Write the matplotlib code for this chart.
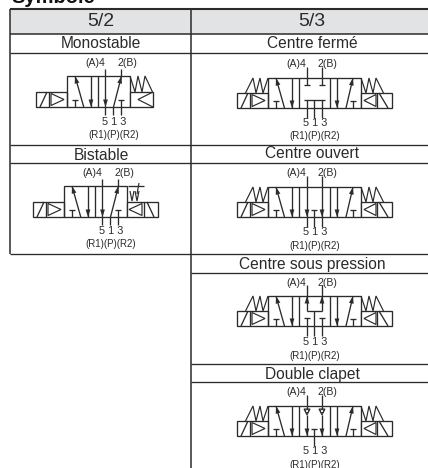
import matplotlib
matplotlib.use("Agg")
import matplotlib.pyplot as plt
from matplotlib.patches import Polygon, Rectangle, Circle

plt.rcParams['font.family'] = ['Liberation Sans', 'DejaVu Sans']

TITLE = "Symbole"
COLUMN_TITLES = ["5/2", "5/3"]
LEFT_ROWS = ["Monostable", "Bistable"]
RIGHT_ROWS = ["Centre fermé", "Centre ouvert", "Centre sous pression", "Double clapet"]
TOP_LEFT_PORT = "(A)4"
TOP_RIGHT_PORT = "2(B)"
BOTTOM_PORTS = "5 1 3"
BOTTOM_NAMES = "(R1)(P)(R2)"
RIGHT_CENTRES = ["closed", "open", "pressure", "check"]

INK = "#2b2b2b"
HEADER_FILL = "#e2e3e4"
LW = 0.95

fig = plt.figure(figsize=(4.28, 4.68), dpi=100)
ax = fig.add_axes([0, 0, 1, 1])
ax.set_xlim(0, 428)
ax.set_ylim(468, 0)
ax.axis("off")


def line(xs, ys, lw=LW):
    ax.plot(xs, ys, color=INK, lw=lw, solid_capstyle="butt", solid_joinstyle="miter")


def arrow(x0, y0, x1, y1):
    # shaft with a narrow filled head at x1,y1
    line([x0, x1], [y0, y1])
    dx, dy = x1 - x0, y1 - y0
    n = (dx ** 2 + dy ** 2) ** 0.5
    dx, dy = dx / n, dy / n
    bx, by = x1 - dx * 7.5, y1 - dy * 7.5
    ax.add_patch(Polygon([(x1, y1), (bx - dy * 2.4, by + dx * 2.4), (bx + dy * 2.4, by - dx * 2.4)],
                         closed=True, fc=INK, ec="none"))


def tee(x, y, end, half=3):
    line([x, x], [y, end])
    line([x - half, x + half], [y, y])


def spring(edge, side, top, low):
    # side: +1 right of the body, -1 left of it
    steps = [(0, top), (5, low), (8, top), (12, low), (15, top), (22.5, low)]
    line([edge + side * s for s, _ in steps], [y for _, y in steps], lw=0.85)


def solenoid_left(x0, top, bot):
    ax.add_patch(Rectangle((x0, top), 31, bot - top, fc="white", ec=INK, lw=LW))
    line([x0 + 13, x0 + 13], [top, bot])
    line([x0 + 4, x0 + 11], [bot, top])
    ax.add_patch(Polygon([(x0 + 15, top + 1.5), (x0 + 28, (top + bot) / 2), (x0 + 15, bot - 1.5)],
                         closed=True, fc="white", ec=INK, lw=0.85))


def left_cell(x0, w, top, bot):
    # the outer position, same on every symbol
    arrow(x0 + w / 2 + 1, bot, x0 + 8, top)
    tee(x0 + 8, bot - 7, bot)
    arrow(x0 + 24, top, x0 + 24, bot)


def right_cell(x0, w, top, bot):
    arrow(x0 + 7, top, x0 + 7, bot)
    arrow(x0 + 16, bot, x0 + 23, top)
    tee(x0 + 23, bot - 7, bot)


def port_labels(p4, p2, p1, y_top, y_ports, y_names):
    ax.text(p4 - 0.5, y_top, TOP_LEFT_PORT, ha="right", va="center", fontsize=7.6, color=INK)
    ax.text(p2 - 4, y_top, TOP_RIGHT_PORT, ha="left", va="center", fontsize=7.6, color=INK)
    ax.text(p1 + 0.5, y_ports, BOTTOM_PORTS, ha="center", va="center", fontsize=7.8, color=INK)
    ax.text(p1, y_names, BOTTOM_NAMES, ha="center", va="center", fontsize=7, color=INK)


def valve_two(x0, top, bistable):
    w = 31.5
    bot = top + 31
    low = bot - 15
    solenoid_left(x0 - 31, low, bot)
    ax.add_patch(Rectangle((x0, top), 2 * w, bot - top, fc="none", ec=INK, lw=LW))
    line([x0 + w, x0 + w], [top, bot])
    left_cell(x0, w, top, bot)
    p4, p1, p2 = x0 + w + 7, x0 + w + 15, x0 + w + 23
    arrow(p4, top - 7, p4, bot)
    arrow(p1, bot, p2, top)
    tee(p2, bot - 7, bot)
    line([p4, p4], [bot, bot + 8])
    line([p1, p1], [bot, bot + 8])
    line([p2, p2], [bot, bot + 8])
    line([p2, p2], [top - 7, top])
    right = x0 + 2 * w
    if bistable:
        ax.add_patch(Rectangle((right, low), 31, bot - low, fc="white", ec=INK, lw=LW))
        line([right + 17, right + 17], [low, bot])
        ax.add_patch(Polygon([(right + 15, low + 1.5), (right + 2, (low + bot) / 2), (right + 15, bot - 1.5)],
                             closed=True, fc="white", ec=INK, lw=0.85))
        line([right + 20, right + 27], [low, bot])
        line([right + 1, right + 17], [top, top])
        line([right + 3, right + 5, right + 7], [top + 5, low - 1, top + 5], lw=0.85)
        line([right + 8, right + 10, right + 12], [top + 5, low - 1, top + 5], lw=0.85)
        line([right + 10, right + 12], [top + 8, top - 3], lw=0.85)
    else:
        ax.add_patch(Rectangle((right, low), 23, bot - low, fc="white", ec=INK, lw=LW))
        line([right + 23, right + 8, right + 23], [low, (low + bot) / 2, bot], lw=0.85)
        spring(right, 1, top, low)
    return p4, p2, p1


def valve_three(top, centre):
    x0, w = 268, 31
    bot = top + 30
    low = bot - 15
    solenoid_left(x0 - 31, low, bot)
    spring(x0, -1, top, low)
    ax.add_patch(Rectangle((x0, top), 3 * w, bot - top, fc="none", ec=INK, lw=LW))
    line([x0 + w, x0 + w], [top, bot])
    line([x0 + 2 * w, x0 + 2 * w], [top, bot])
    left_cell(x0, w, top, bot)
    right_cell(x0 + 2 * w, w, top, bot)
    right = x0 + 3 * w
    ax.add_patch(Rectangle((right, low), 31, bot - low, fc="white", ec=INK, lw=LW))
    line([right + 16, right + 16], [low, bot])
    ax.add_patch(Polygon([(right + 15, low + 1.5), (right + 3, (low + bot) / 2), (right + 15, bot - 1.5)],
                         closed=True, fc="white", ec=INK, lw=0.85))
    line([right + 18, right + 27], [low, bot])
    spring(right, 1, top, low)

    p4, p1, p2 = 307, 314.5, 322
    stub = top - 11
    tail = bot + 10
    if centre == "closed":
        tee(p4, top + 7, stub)
        tee(p2, top + 7, stub)
        line([p4 - 3, p2 + 3], [bot - 8, bot - 8])
        for p in (p4, p1, p2):
            line([p, p], [bot - 8, tail])
    elif centre == "open":
        arrow(p4, stub, p4, bot)
        arrow(p2, stub, p2, bot)
        tee(p1, bot - 7, tail)
        line([p4, p4], [bot, tail])
        line([p2, p2], [bot, tail])
    elif centre == "pressure":
        line([p4, p4], [stub, top])
        line([p2, p2], [stub, top])
        arrow(p4, top + 15, p4, top)
        arrow(p2, top + 15, p2, top)
        line([p4, p2], [top + 15, top + 15])
        line([p1, p1], [top + 15, tail])
        tee(p4, bot - 8, tail)
        tee(p2, bot - 8, tail)
    else:
        for p in (p4, p2):
            line([p, p], [stub, top + 3])
            ax.add_patch(Polygon([(p - 3, top + 3), (p + 3, top + 3), (p, top + 9)],
                                 closed=True, fc="white", ec=INK, lw=0.8))
            ax.add_patch(Circle((p, top + 5), 1.6, fc="white", ec=INK, lw=0.7))
            arrow(p, top + 9, p, bot)
        tee(p1, bot - 7, tail)
    return p4, p2, p1


# title, cut by the top of the picture
ax.text(11, 3, TITLE, fontsize=14.5, fontweight="bold", color="#111111", va="baseline", ha="left")

# table
ax.add_patch(Rectangle((10, 9), 418, 25, fc=HEADER_FILL, ec="none"))
line([10, 428], [9, 9], lw=1.5)
line([10, 428], [34, 34], lw=1.1)
line([10, 10], [9, 254], lw=1.1)
line([191, 191], [9, 468], lw=1.1)
for y in [53, 145, 163, 254]:
    line([10, 428], [y, y])
for y in [273, 364, 382]:
    line([191, 428], [y, y])

ax.text(100.5, 22, COLUMN_TITLES[0], fontsize=14, ha="center", va="center", color=INK)
ax.text(312, 22, COLUMN_TITLES[1], fontsize=14, ha="center", va="center", color=INK)

left_label_y = [44, 155]
left_top = [76, 186]
left_x0 = [67, 64]
left_text_y = [(63, 122, 135), (173, 231, 244)]
for i in range(2):
    ax.text(101, left_label_y[i], LEFT_ROWS[i], fontsize=11.2, ha="center", va="center", color=INK)
    p4, p2, p1 = valve_two(left_x0[i], left_top[i], i == 1)
    port_labels(p4, p2, p1, *left_text_y[i])

right_label_y = [44, 154, 264, 375]
right_top = [78, 187, 296, 406]
right_text_y = [(64, 123, 136), (173, 232, 246), (283, 342, 356), (392, 451, 465)]
for i in range(4):
    ax.text(312, right_label_y[i], RIGHT_ROWS[i], fontsize=11.2, ha="center", va="center", color=INK)
    p4, p2, p1 = valve_three(right_top[i], RIGHT_CENTRES[i])
    port_labels(p4, p2, p1, *right_text_y[i])

fig.savefig("out.png", dpi=100)
